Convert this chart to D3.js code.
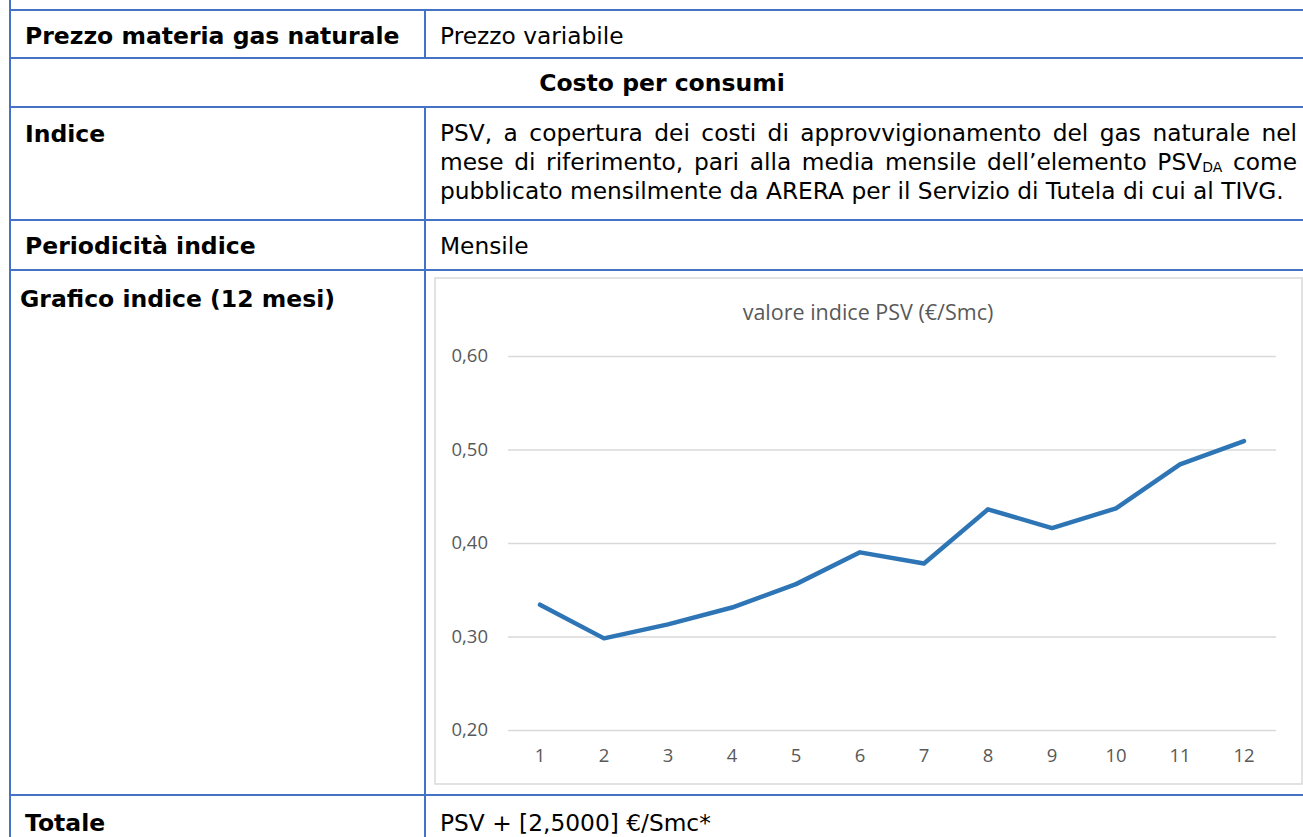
<!DOCTYPE html>
<html>
<head>
<meta charset="utf-8">
<script src="https://cdn.jsdelivr.net/npm/d3@7"></script>
<style>
  body { margin: 0; background: #fff; }
  svg { display: block; }
</style>
</head>
<body>
<svg id="page" width="1303" height="837"></svg>
<script>
// months and index values (€/Smc)
var months = [1, 2, 3, 4, 5, 6, 7, 8, 9, 10, 11, 12];
var psv = [0.334, 0.298, 0.313, 0.331, 0.356, 0.390, 0.378, 0.436, 0.416, 0.437, 0.484, 0.509];
var yTicks = [0.20, 0.30, 0.40, 0.50, 0.60];
var chartTitle = "valore indice PSV (€/Smc)";

var blue = "#4472c4";
var svg = d3.select("#page");

/* table grid */
var rowLines = [10, 58, 107, 220, 270, 795];
var grid = svg.append("g").attr("stroke", blue).attr("stroke-width", 2);
rowLines.forEach(function (y) {
  grid.append("line").attr("x1", 9).attr("x2", 1310).attr("y1", y).attr("y2", y);
});
grid.append("line").attr("x1", 10).attr("x2", 10).attr("y1", 0).attr("y2", 837);
[[10, 58], [107, 837]].forEach(function (s) {
  grid.append("line").attr("x1", 425).attr("x2", 425).attr("y1", s[0]).attr("y2", s[1]);
});

var labelFont = "'DejaVu Sans', Verdana, sans-serif";

function label(x, y, txt, bold, anchor) {
  return svg.append("text")
    .attr("x", x).attr("y", y)
    .attr("font-family", labelFont)
    .attr("font-size", bold ? 23.5 : 23.3)
    .attr("font-weight", bold ? "bold" : "normal")
    .attr("text-anchor", anchor || "start")
    .attr("fill", "#000")
    .text(txt);
}

label(25, 44, "Prezzo materia gas naturale", true);
label(440, 44, "Prezzo variabile", false);
label(662, 91, "Costo per consumi", true, "middle");
label(25, 142, "Indice", true);
label(25, 254, "Periodicità indice", true);
label(440, 254, "Mensile", false);
label(20, 307, "Grafico indice (12 mesi)", true);
label(25, 831, "Totale", true);
label(440, 831, "PSV + [2,5000] €/Smc*", false);

// justified paragraph
var right = 1297;
var l1 = label(440, 141, "PSV, a copertura dei costi di approvvigionamento del gas naturale nel", false);
var l2 = label(440, 170, "", false);
l2.append("tspan").text("mese di riferimento, pari alla media mensile dell’elemento PSV");
l2.append("tspan").attr("font-size", 14).attr("dy", 2).text("DA");
l2.append("tspan").attr("dy", -2).text(" come");
label(440, 199, "pubblicato mensilmente da ARERA per il Servizio di Tutela di cui al TIVG.", false);

[l1, l2].forEach(function (t) {
  var w = t.node().getComputedTextLength();
  var n = t.text().split(" ").length - 1;
  t.attr("word-spacing", Math.max(0, (right - 440 - w) / n));
});

/* chart */
var chartFont = "'Open Sans', 'Noto Sans', sans-serif";
svg.append("rect")
  .attr("x", 435).attr("y", 278).attr("width", 867).attr("height", 506)
  .attr("fill", "#fff").attr("stroke", "#d9d9d9").attr("stroke-width", 1.5);

var x = d3.scaleBand().domain(months).range([508, 1276]);
var y = d3.scaleLinear().domain([0.2, 0.6]).range([730, 356]);

svg.append("text")
  .attr("x", 868).attr("y", 320)
  .attr("text-anchor", "middle")
  .attr("font-family", chartFont).attr("font-size", 21.5)
  .attr("fill", "#595959")
  .text(chartTitle);

var gy = svg.append("g")
  .attr("transform", "translate(508,0)")
  .call(d3.axisLeft(y).tickValues(yTicks).tickSize(-768)
    .tickPadding(20)
    .tickFormat(function (d) { return d.toFixed(2).replace(".", ","); }));
gy.select(".domain").remove();
gy.selectAll(".tick line").attr("stroke", "#d9d9d9").attr("stroke-width", 1.5);
gy.selectAll(".tick text")
  .attr("font-family", chartFont).attr("font-size", 18.5).attr("fill", "#595959");

var gx = svg.append("g")
  .attr("transform", "translate(0,730)")
  .call(d3.axisBottom(x).tickSize(0).tickPadding(19));
gx.select(".domain").remove();
gx.selectAll(".tick text")
  .attr("font-family", chartFont).attr("font-size", 18.5).attr("fill", "#595959");

var line = d3.line()
  .x(function (d, i) { return x(months[i]) + x.bandwidth() / 2; })
  .y(function (d) { return y(d); });

svg.append("path")
  .datum(psv)
  .attr("d", line)
  .attr("fill", "none")
  .attr("stroke", "#2e75b6")
  .attr("stroke-width", 4.5)
  .attr("stroke-linejoin", "round")
  .attr("stroke-linecap", "round");
</script>
</body>
</html>
